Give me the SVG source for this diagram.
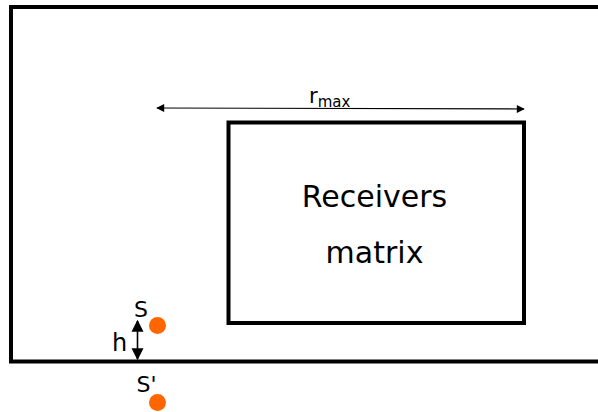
<svg xmlns="http://www.w3.org/2000/svg" width="598" height="412" viewBox="0 0 598 412">
<style>
.t{font-family:"DejaVu Sans",sans-serif;fill:#000}
.box{fill:none;stroke:#000;stroke-width:4}
.src{fill:#ff6600}
</style>
<defs>
<marker id="ah" viewBox="0 0 10 10" refX="9" refY="5" markerWidth="10" markerHeight="8" markerUnits="userSpaceOnUse" orient="auto-start-reverse">
<path d="M0,0 L10,5 L0,10 z" fill="#000"/>
</marker>
<marker id="ahb" viewBox="0 0 10 10" refX="9" refY="5" markerWidth="12" markerHeight="14" markerUnits="userSpaceOnUse" orient="auto-start-reverse">
<path d="M0,0 L10,5 L0,10 z" fill="#000"/>
</marker>
</defs>
<rect fill="#fff" width="598" height="412"/>
<g id="room"><rect class="box" x="11" y="7" width="600" height="354.5"/></g>
<g id="receivers">
<rect class="box" x="228.5" y="122.5" width="295.5" height="200.5"/>
<text class="t" x="374.5" y="207" font-size="30" text-anchor="middle">Receivers</text>
<text class="t" x="374.5" y="263" font-size="30" text-anchor="middle">matrix</text>
</g>
<g id="source">
<circle class="src" cx="157.5" cy="325.5" r="8.5"/>
<text class="t" x="134" y="316.5" font-size="22">S</text>
</g>
<g id="image-source">
<circle class="src" cx="157.5" cy="402.5" r="8.5"/>
<text class="t" x="136.5" y="392" font-size="22">S'</text>
</g>
<g id="connectors">
<line x1="157" y1="108" x2="524" y2="109" stroke="#000" stroke-width="1.2" marker-start="url(#ah)" marker-end="url(#ah)"/>
<line x1="137.5" y1="321" x2="137.5" y2="359" stroke="#000" stroke-width="1.6" marker-start="url(#ahb)" marker-end="url(#ahb)"/>
</g>
<g id="labels">
<text class="t" x="309" y="103" font-size="21">r<tspan font-size="15" dy="4">max</tspan></text>
<text class="t" x="112" y="351" font-size="24">h</text>
</g>
</svg>
